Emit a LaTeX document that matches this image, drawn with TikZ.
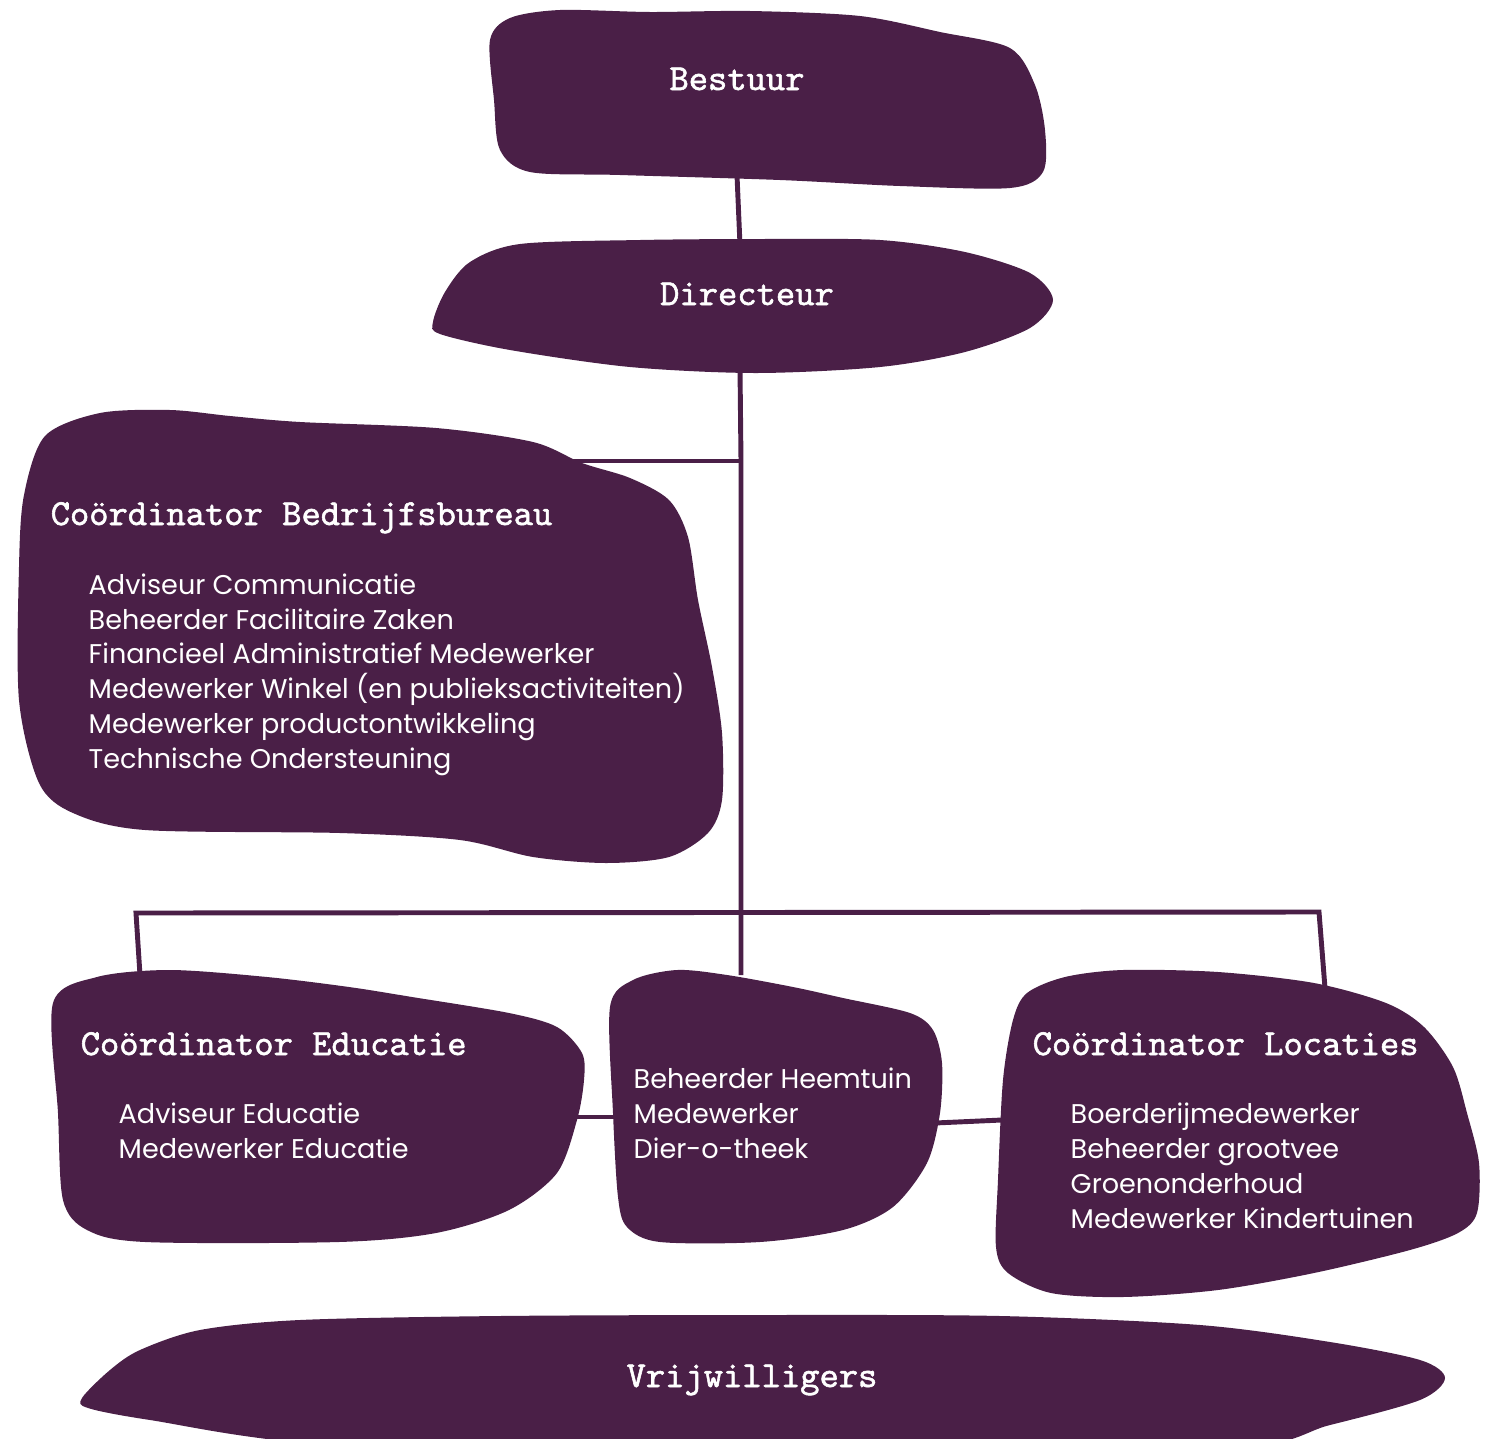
\documentclass[tikz,border=0pt]{standalone}
\usepackage{fontspec}
\newfontfamily\itemfont{Poppins}
\newfontfamily\headfont{lmmono10-regular}[Extension=.otf,FakeBold=1.5]
\definecolor{aubergine}{HTML}{4A1F47}

\begin{document}
\begin{tikzpicture}[x=0.01cm, y=-0.01cm]
\tikzset{
  blob/.style={fill=aubergine},
  link/.style={draw=aubergine, line width=1.4pt},
  head/.style={text=white, inner sep=0pt, font=\headfont\fontsize{10.45}{12}\selectfont},
  items/.style={text=white, inner sep=0pt, align=left, font=\itemfont\fontsize{7.7}{9.87}\selectfont},
}

\useasboundingbox (0,0) rectangle (1490,1439);

\coordinate (bestuur-s) at (737,175);
\coordinate (directeur-n) at (740,245);
\coordinate (directeur-s) at (740,368);
\coordinate (trunk-bb) at (741,461);
\coordinate (bb-e) at (565,461);
\coordinate (trunk-bar) at (741,913);
\coordinate (middle-n) at (741,975);
\coordinate (bar-w) at (136,913);
\coordinate (bar-e) at (1319,912);
\coordinate (educatie-n) at (140,975);
\coordinate (locaties-n) at (1325,988);
\coordinate (educatie-e) at (575,1117);
\coordinate (middle-w) at (616,1117);
\coordinate (middle-e) at (935,1123);
\coordinate (locaties-w) at (1002,1120);

\draw[link] (bestuur-s) -- (directeur-n);

\draw[link] (directeur-s) -- (trunk-bb) -- (trunk-bar) -- (middle-n);

\draw[link] (trunk-bb) -- (bb-e);

\draw[link] (educatie-n) -- (bar-w) -- (bar-e) -- (locaties-n);

\draw[link] (educatie-e) -- (middle-w);

\draw[link] (middle-e) -- (locaties-w);


\fill[blob] plot[smooth cycle] coordinates {(490,40) (510,18) (560,10) (650,12) (750,11) (860,16) (940,32) (1010,48) (1035,85) (1045,130) (1043,172) (1010,188) (900,186) (780,180) (620,175) (530,172) (500,150) (494,100)};

\fill[blob] plot[smooth cycle] coordinates {(433,322) (445,292) (470,262) (520,244) (640,240) (760,239) (880,240) (965,252) (1030,273) (1053,300) (1030,328) (965,352) (880,367) (756,373) (630,367) (510,350) (440,334)};

\fill[blob] plot[smooth cycle] coordinates {(45,436) (100,413) (170,410) (230,416) (300,422) (436,428) (533,442) (582,463) (630,478) (669,500) (688,537) (698,600) (712,667) (722,733) (722,800) (708,833) (669,857) (606,863) (533,857) (460,840) (340,833) (145,830) (73,813) (39,783) (19,700) (19,567) (24,495)};

\fill[blob] plot[smooth cycle] coordinates {(53,1003) (97,977) (170,970) (267,977) (349,987) (412,997) (509,1013) (557,1027) (582,1053) (584,1080) (577,1120) (557,1173) (509,1210) (436,1233) (339,1242) (145,1242) (87,1230) (63,1200) (58,1113)};

\fill[blob] plot[smooth cycle] coordinates {(610,1007) (633,980) (677,970) (727,975) (793,987) (843,998) (910,1013) (933,1030) (942,1063) (940,1113) (927,1163) (893,1207) (843,1230) (760,1242) (660,1242) (627,1227) (618,1197) (613,1113)};

\fill[blob] plot[smooth cycle] coordinates {(1027,993) (1065,977) (1123,970) (1218,972) (1314,983) (1386,1003) (1424,1027) (1453,1067) (1467,1113) (1479,1163) (1477,1213) (1458,1233) (1410,1250) (1314,1273) (1218,1290) (1123,1297) (1051,1293) (1008,1273) (996,1247) (998,1180) (1003,1080) (1013,1020)};

\fill[blob] plot[smooth cycle] coordinates {(82,1398) (110,1370) (140,1350) (200,1330) (300,1320) (500,1316) (760,1315) (1000,1316) (1200,1325) (1330,1342) (1420,1360) (1445,1378) (1420,1400) (1330,1425) (1220,1450) (760,1460) (330,1445) (150,1420) (88,1408)};


\node[head, anchor=base] (bestuur) at (737,90) {Bestuur};

\node[head, anchor=base] (directeur) at (747,305) {Directeur};

\node[head, anchor=base west] (bedrijfsbureau) at (50,525) {Coördinator Bedrijfsbureau};

\node[items, anchor=base west] (bedrijfsbureau-staf) at (88,768) {Adviseur Communicatie\\Beheerder Facilitaire Zaken\\Financieel Administratief Medewerker\\Medewerker Winkel (en publieksactiviteiten)\\Medewerker productontwikkeling\\Technische Ondersteuning};

\node[head, anchor=base west] (educatie) at (80,1055) {Coördinator Educatie};

\node[items, anchor=base west] (educatie-staf) at (118,1158) {Adviseur Educatie\\Medewerker Educatie};

\node[items, anchor=base west] (heemtuin) at (633,1158) {Beheerder Heemtuin\\Medewerker\\Dier-o-theek};

\node[head, anchor=base west] (locaties) at (1032,1055) {Coördinator Locaties};

\node[items, anchor=base west] (locaties-staf) at (1070,1228) {Boerderijmedewerker\\Beheerder grootvee\\Groenonderhoud\\Medewerker Kindertuinen};

\node[head, anchor=base] (vrijwilligers) at (752,1387) {Vrijwilligers};

\end{tikzpicture}
\end{document}
